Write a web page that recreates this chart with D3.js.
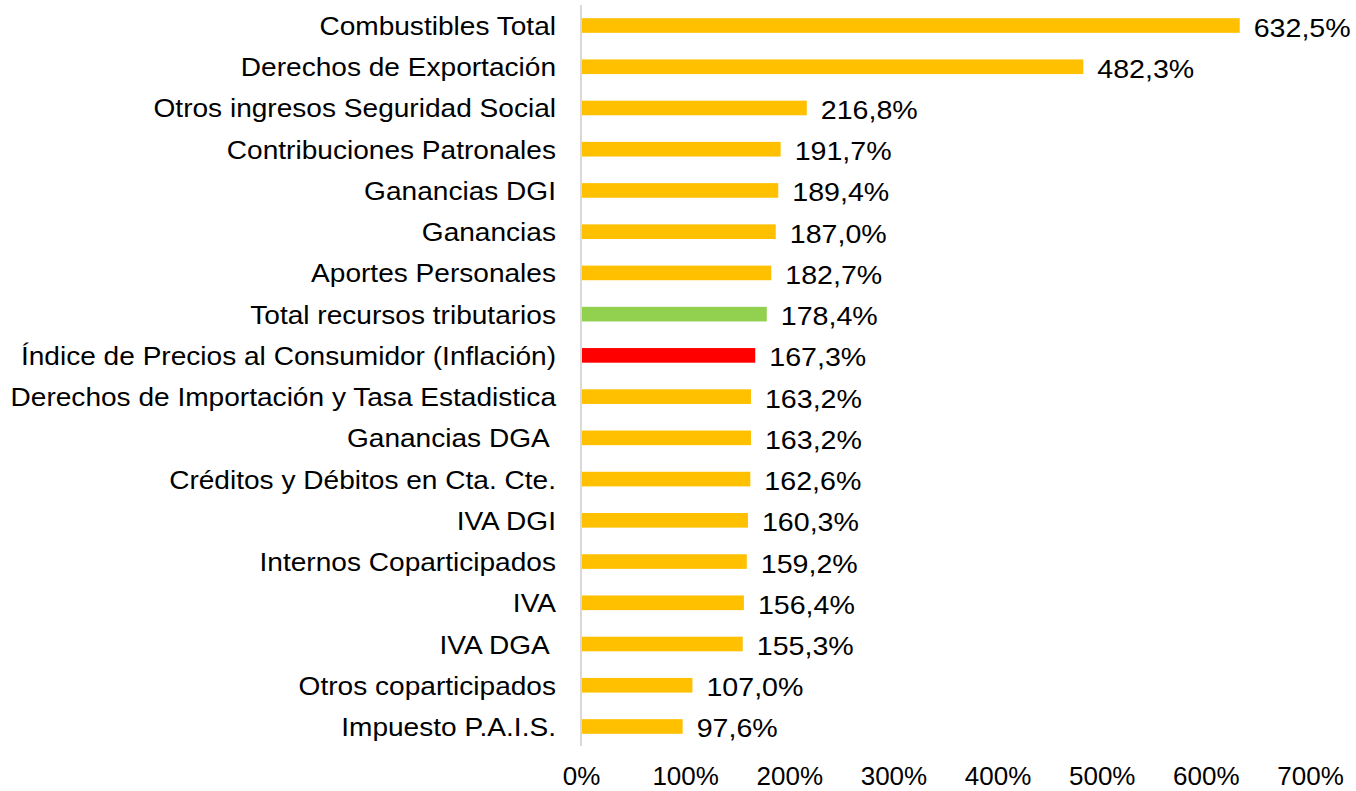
<!DOCTYPE html>
<html>
<head>
<meta charset="utf-8">
<script src="https://cdn.jsdelivr.net/npm/d3@7"></script>
<style>
  body { margin: 0; background: #fff; }
  svg text { font-family: "Liberation Sans", Arial, sans-serif; fill: #000; white-space: pre; }
</style>
</head>
<body>
<svg id="chart" width="1356" height="791"></svg>
<script>
// categories top to bottom
var categories = [
  "Combustibles Total",
  "Derechos de Exportación",
  "Otros ingresos Seguridad Social",
  "Contribuciones Patronales",
  "Ganancias DGI",
  "Ganancias",
  "Aportes Personales",
  "Total recursos tributarios",
  "Índice de Precios al Consumidor (Inflación)",
  "Derechos de Importación y Tasa Estadistica",
  "Ganancias DGA ",
  "Créditos y Débitos en Cta. Cte.",
  "IVA DGI",
  "Internos Coparticipados",
  "IVA",
  "IVA DGA ",
  "Otros coparticipados",
  "Impuesto P.A.I.S."
];
var values = [632.5, 482.3, 216.8, 191.7, 189.4, 187.0, 182.7, 178.4, 167.3,
              163.2, 163.2, 162.6, 160.3, 159.2, 156.4, 155.3, 107.0, 97.6];
var highlight = {
  "Total recursos tributarios": "#92D050",
  "Índice de Precios al Consumidor (Inflación)": "#FF0000"
};
var ticks = [0, 100, 200, 300, 400, 500, 600, 700];

var svg = d3.select("#chart");

var x = d3.scaleLinear().domain([0, 700]).range([581, 1310]);
var y = d3.scaleBand().domain(categories).range([5, 747]).paddingInner(0.645).paddingOuter(0.32);

var fmt = function(v) { return d3.format(".1f")(v).replace(".", ",") + "%"; };
var mid = function(d) { return y(d) + y.bandwidth() / 2; };

// bars
svg.selectAll("rect.bar")
  .data(categories)
  .enter().append("rect")
  .attr("class", "bar")
  .attr("x", x(0))
  .attr("y", function(d) { return y(d); })
  .attr("height", y.bandwidth())
  .attr("width", function(d, i) { return x(values[i]) - x(0); })
  .attr("fill", function(d) { return highlight[d] || "#FFC000"; });

// vertical axis line
svg.append("line")
  .attr("x1", x(0)).attr("x2", x(0))
  .attr("y1", 5).attr("y2", 746)
  .attr("stroke", "#D9D9D9")
  .attr("stroke-width", 2);

// category labels (text a bit wider than the font, like the original)
svg.selectAll("text.cat")
  .data(categories)
  .enter().append("text")
  .attr("class", "cat")
  .attr("transform", function(d) { return "translate(556," + (mid(d) + 9.5) + ") scale(1.08,1)"; })
  .attr("text-anchor", "end")
  .style("font-size", "26px")
  .text(function(d) { return d; });

// value labels
svg.selectAll("text.val")
  .data(categories)
  .enter().append("text")
  .attr("class", "val")
  .attr("transform", function(d, i) { return "translate(" + (x(values[i]) + 14) + "," + (mid(d) + 11) + ") scale(1.1,1)"; })
  .style("font-size", "26px")
  .text(function(d, i) { return fmt(values[i]); });

// bottom axis (labels only)
var xAxis = d3.axisBottom(x)
  .tickValues(ticks)
  .tickSize(0)
  .tickPadding(0)
  .tickFormat(function(d) { return d + "%"; });

var g = svg.append("g")
  .attr("transform", "translate(0,785)")
  .call(xAxis);
g.select(".domain").remove();
g.selectAll("text")
  .attr("dy", null)
  .attr("y", 0)
  .style("font-size", "26px")
  .style("font-family", "'Liberation Sans', Arial, sans-serif")
  .attr("fill", "#000");
</script>
</body>
</html>
